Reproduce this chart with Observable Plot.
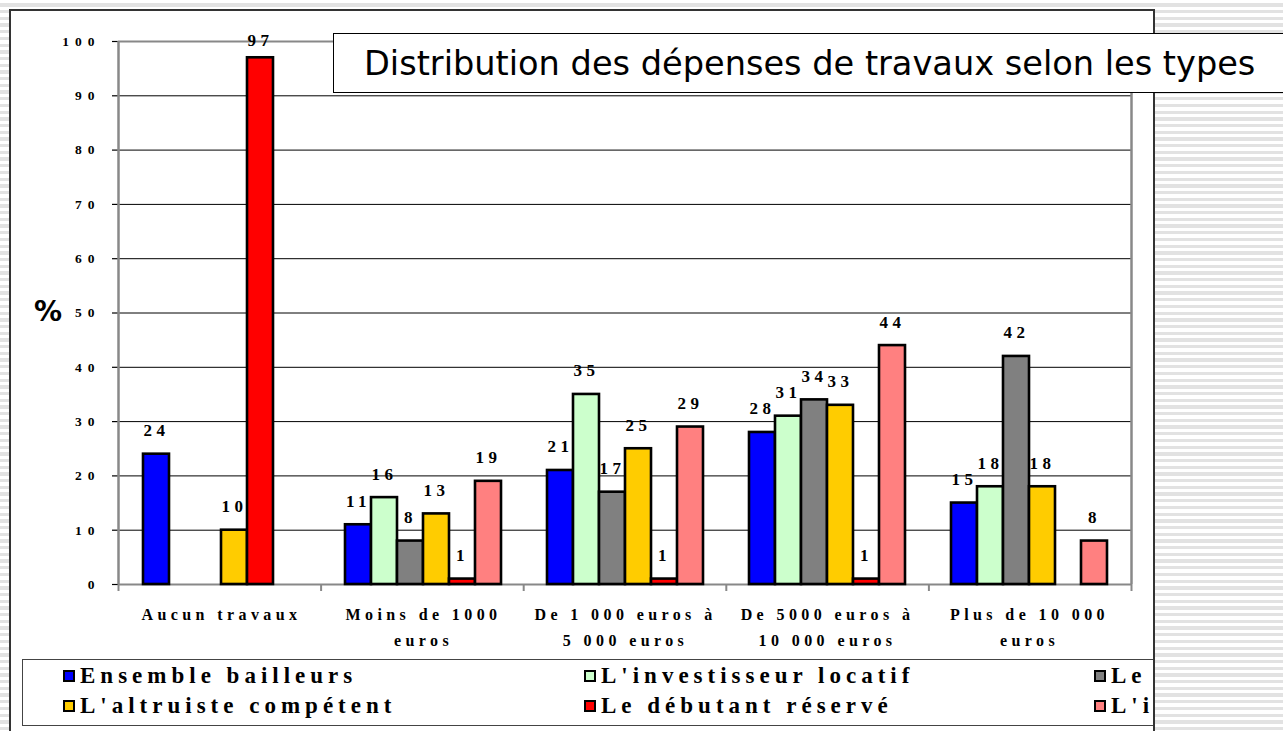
<!DOCTYPE html>
<html><head><meta charset="utf-8">
<script src="https://cdn.jsdelivr.net/npm/d3@7"></script>
<script src="https://cdn.jsdelivr.net/npm/@observablehq/plot@0.6"></script>
<style>
html,body{margin:0;padding:0;width:1283px;height:731px;overflow:hidden;}
body{position:relative;background:repeating-linear-gradient(to bottom,#fff 0px,#fff 3.4px,#e2e2e2 3.4px,#e2e2e2 6.7px);}
#paper{position:absolute;left:10px;top:10px;width:1144px;height:721px;background:#fff;}
#base,#bars{position:absolute;left:10px;top:10px;}
#legendClip{position:absolute;left:0;top:0;width:1154px;height:731px;overflow:hidden;}
#legend{position:absolute;left:22px;top:659px;width:1140px;height:67px;border:1.5px solid #444;box-sizing:border-box;background:#fff;font-family:"Liberation Serif";font-weight:bold;font-size:23px;letter-spacing:5px;color:#000;}
.item{position:absolute;display:flex;align-items:center;white-space:nowrap;height:24px;}
.sw{width:8px;height:8px;border:2px solid #000;margin-right:5px;flex:none;}
#frame{position:absolute;left:9px;top:9px;width:1146px;height:760px;border:2px solid #333;box-sizing:border-box;pointer-events:none;}
#title{position:absolute;left:333px;top:33px;width:1000px;height:60px;border:1px solid #000;box-sizing:border-box;background:#fff;font-family:"DejaVu Sans";font-size:33.6px;line-height:58px;padding-left:30px;padding-top:1px;white-space:nowrap;color:#000;}
#pct{position:absolute;left:34px;top:295px;font-family:"DejaVu Sans";font-weight:bold;font-size:28px;color:#000;}
#base g[aria-label="x-axis tick"] path,#base g[aria-label="x-axis"] line{stroke:#888;stroke-width:2;}
#base g[aria-label="y-axis tick"] path{stroke:#000;stroke-width:1.2;}
#base g[aria-label="x-axis tick label"]{display:none;}
</style></head><body>
<div id="paper"></div>
<div id="base"></div>
<div id="bars"></div>
<div id="legendClip"><div id="legend"></div></div>
<div id="frame"></div>
<div id="pct">%</div>
<div id="title">Distribution des dépenses de travaux selon les types</div>
<script>
// ---- data ----
const categories = ["Aucun travaux", "Moins de 1000 euros", "De 1 000 euros à 5 000 euros", "De 5000 euros à 10 000 euros", "Plus de 10 000 euros"];
const categoryLabels = ["Aucun travaux", "Moins de 1000\neuros", "De 1 000 euros à\n5 000 euros", "De 5000 euros à\n10 000 euros", "Plus de 10 000\neuros"];
const seriesNames = ["Ensemble bailleurs", "L'investisseur locatif", "Le rentier", "L'altruiste compétent", "Le débutant réservé", "L'inactif"];
const seriesColors = ["#0000ff", "#ccffcc", "#808080", "#ffcc00", "#ff0000", "#ff8080"];
const ensembleBailleurs     = [24, 11, 21, 28, 15];
const investisseurLocatif   = [null, 16, 35, 31, 18];
const rentier               = [null, 8, 17, 34, 42];
const altruisteCompetent    = [10, 13, 25, 33, 18];
const debutantReserve       = [97, 1, 1, 1, null];
const inactif               = [null, 19, 29, 44, 8];
const seriesValues = [ensembleBailleurs, investisseurLocatif, rentier, altruisteCompetent, debutantReserve, inactif];
const yTicks = [0, 10, 20, 30, 40, 50, 60, 70, 80, 90, 100];

const data = [];
seriesNames.forEach((s, si) => categories.forEach((c, ci) => {
  const v = seriesValues[si][ci];
  if (v != null) data.push({cat: c, series: s, value: v});
}));

const W = 1143, H = 650, mL = 108, mR = 22, mT = 31, mB = 76;

const base = Plot.plot({
  width: W, height: H, marginLeft: mL, marginRight: mR, marginTop: mT, marginBottom: mB,
  style: {background: "transparent", fontFamily: "Liberation Serif", fontWeight: "bold", fontSize: "13.5px", letterSpacing: "6px", color: "#000", overflow: "visible"},
  x: {domain: [0, categories.length], ticks: d3.range(categories.length + 1), tickFormat: () => "", tickSize: 7, label: null},
  y: {domain: [0, 100], ticks: yTicks, tickSize: 6, tickPadding: 12, label: null, tickFormat: d => String(d)},
  marks: [
    Plot.ruleY(yTicks.filter(t => t > 0 && t < 100), {stroke: "#000", strokeWidth: 1}),
    Plot.ruleY([0, 100], {stroke: "#888", strokeWidth: 2}),
    Plot.ruleX([0, categories.length], {stroke: "#888", strokeWidth: 2.5})
  ]
});
document.getElementById("base").appendChild(base);

const bars = Plot.plot({
  width: W, height: H, marginLeft: mL, marginRight: mR, marginTop: mT, marginBottom: mB,
  style: {background: "transparent", fontFamily: "Liberation Serif", fontWeight: "bold", letterSpacing: "4.4px", color: "#000", overflow: "visible"},
  fx: {domain: categories, padding: 0, axis: null, label: null},
  x: {domain: seriesNames, paddingInner: 0, paddingOuter: 0.75, axis: null},
  y: {domain: [0, 100], axis: null},
  color: {domain: seriesNames, range: seriesColors},
  marks: [
    Plot.barY(data, {fx: "cat", x: "series", y: "value", fill: "series", stroke: "#000", strokeWidth: 2.6}),
    Plot.text(data, {fx: "cat", x: "series", y: d => Math.min(d.value, 95.8), text: d => String(d.value), dy: -23.5, dx: 0, fontSize: 17, fill: "#000"}),
    Plot.text(categories, {fx: d => d, text: (d, i) => categoryLabels[i], frameAnchor: "bottom", lineAnchor: "top", dy: 17, dx: 0, lineHeight: 1.625, fontSize: 16, fill: "#000"})
  ]
});
document.getElementById("bars").appendChild(bars);

// legend (3 columns, filled row-wise)
const colLeft = [40, 561, 1071], rowTop = [3.5, 33.5];
const legend = d3.select("#legend");
seriesNames.forEach((s, i) => {
  const it = legend.append("div").attr("class", "item")
    .style("left", colLeft[i % 3] + "px").style("top", rowTop[Math.floor(i / 3)] + "px");
  it.append("div").attr("class", "sw").style("background", seriesColors[i]);
  it.append("span").text(s);
});
</script>
</body></html>
